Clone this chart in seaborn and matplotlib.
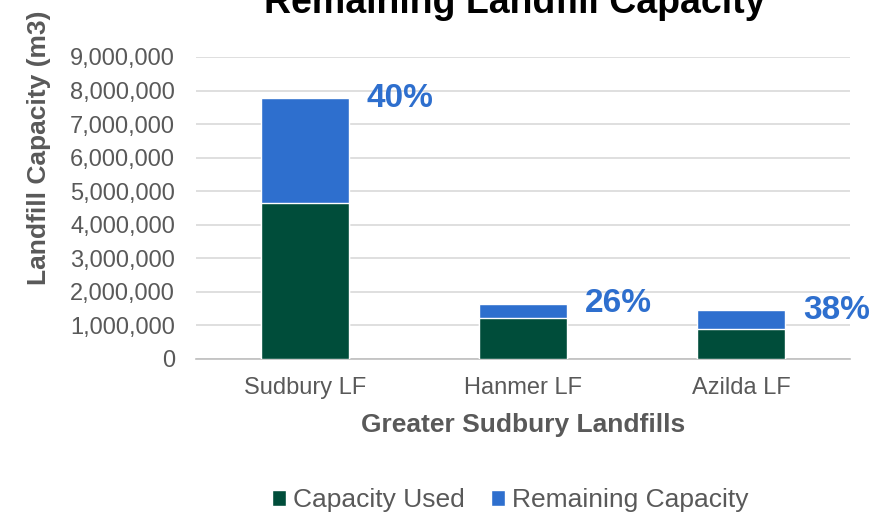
import matplotlib
matplotlib.use("Agg")
import matplotlib.pyplot as plt
import matplotlib.ticker as mticker
from matplotlib.patches import Patch
import seaborn as sns
import pandas as pd

landfills = ["Sudbury LF", "Hanmer LF", "Azilda LF"]
capacity_used = [4650000, 1220000, 900000]
remaining_capacity = [3120000, 430000, 550000]
remaining_pct_labels = ["40%", "26%", "38%"]

GREEN = "#004D3A"
BLUE = "#2E6FCE"
GREY = "#595959"

sns.set_theme(style="white")
plt.rcParams["font.family"] = ["Liberation Sans", "DejaVu Sans"]

df = pd.DataFrame({
    "Landfill": landfills,
    "Used": capacity_used,
    "Remaining": remaining_capacity,
})
df["Total"] = df["Used"] + df["Remaining"]

fig = plt.figure(figsize=(8.92, 5.18), dpi=100)
ax = fig.add_axes([0.2197, 0.307, 0.953 - 0.2197, 0.89 - 0.307])

# stacked bars: full height in blue, used portion in green over it
sns.barplot(data=df, x="Landfill", y="Total", color=BLUE, width=0.4,
            saturation=1, ax=ax, zorder=3)
sns.barplot(data=df, x="Landfill", y="Used", color=GREEN, width=0.4,
            saturation=1, ax=ax, zorder=4)

ax.set_ylim(0, 9000000)
ax.yaxis.set_major_locator(mticker.MultipleLocator(1000000))
ax.yaxis.set_major_formatter(mticker.FuncFormatter(lambda v, p: f"{int(v):,}"))
ax.grid(axis="y", color="#D9D9D9", linewidth=1.2, zorder=0)
ax.set_axisbelow(True)
for s in ["top", "right", "left"]:
    ax.spines[s].set_visible(False)
ax.spines["bottom"].set_color("#BFBFBF")
ax.spines["bottom"].set_linewidth(1.2)
ax.tick_params(axis="both", length=0, labelsize=17, labelcolor=GREY)
ax.tick_params(axis="y", pad=15)
ax.tick_params(axis="x", pad=13)

ax.set_ylabel("Landfill Capacity (m3)", fontsize=19, fontweight="bold",
              color=GREY)
ax.yaxis.set_label_coords(-0.222, 0.70)
ax.set_xlabel("Greater Sudbury Landfills", fontsize=19, fontweight="bold",
              color=GREY, labelpad=10)

# percentage labels beside each bar top
for bar, lab in zip(ax.patches[:len(landfills)], remaining_pct_labels):
    x_right = bar.get_x() + bar.get_width()
    top = bar.get_height()
    ax.annotate(lab, xy=(x_right, top), xytext=(13, 0),
                textcoords="offset points", ha="left", va="center",
                fontsize=24, fontweight="bold", color=BLUE)

fig.text(515 / 892, 1 - 13 / 518, "Remaining Landfill Capacity",
         fontsize=27, fontweight="bold", color="black",
         ha="center", va="baseline")

handles = [Patch(facecolor=GREEN, label="Capacity Used"),
           Patch(facecolor=BLUE, label="Remaining Capacity")]
fig.legend(handles=handles, loc="center", bbox_to_anchor=(510 / 892, 1 - 500 / 518),
           ncol=2, frameon=False, fontsize=19, handlelength=0.55,
           handleheight=0.55, handletextpad=0.25, columnspacing=1.0,
           labelcolor=GREY)

fig.savefig("out.png", dpi=100, facecolor="white")
